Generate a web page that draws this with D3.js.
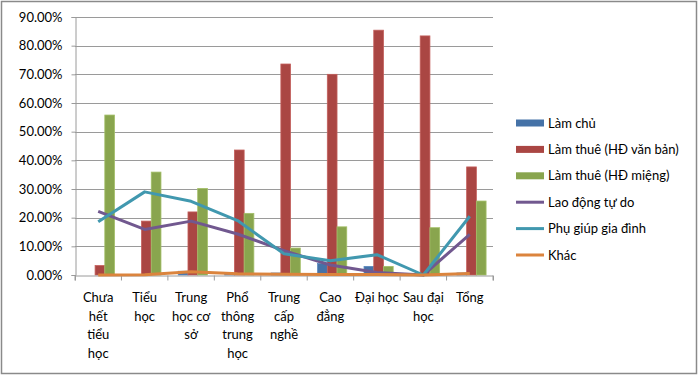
<!DOCTYPE html>
<html>
<head>
<meta charset="utf-8">
<script src="https://cdn.jsdelivr.net/npm/d3@7"></script>
<style>
  body { margin: 0; background: #fff; }
  text { font-family: Lato, "Open Sans", sans-serif; fill: #000; }
</style>
</head>
<body>
<div id="chart"></div>
<script>
// categories (line breaks as in the original axis labels)
var categories = ["Chưa\nhết\ntiểu\nhọc", "Tiểu\nhọc", "Trung\nhọc cơ\nsở", "Phổ\nthông\ntrung\nhọc",
  "Trung\ncấp\nnghề", "Cao\nđẳng", "Đại học", "Sau đại\nhọc", "Tổng"];

// bar series (percent)
var lamChu = [0.0, 0.0, 1.3, 0.3, 0.7, 4.0, 3.0, 0.0, 0.7];
var lamThueVanBan = [3.3, 18.8, 22.0, 43.6, 73.6, 70.0, 85.4, 83.4, 37.7];
var lamThueMieng = [55.8, 35.9, 30.2, 21.5, 9.4, 16.8, 3.0, 16.5, 25.8];

// line series (percent)
var laoDongTuDo = [22.2, 15.9, 18.8, 14.3, 8.5, 3.5, 0.9, 0.0, 14.2];
var phuGiup = [18.6, 29.0, 25.7, 19.0, 7.4, 5.0, 7.1, 0.0, 20.5];
var khac = [0.0, 0.1, 1.1, 0.4, 0.3, 0.2, 0.2, 0.0, 0.5];

var yTicks = [0, 10, 20, 30, 40, 50, 60, 70, 80, 90];

var barSeries = [
  { name: "Làm chủ", values: lamChu, color: "#4572A7", edge: "#5b87bd" },
  { name: "Làm thuê (HĐ văn bản)", values: lamThueVanBan, color: "#AA4643", edge: "#c45f5c" },
  { name: "Làm thuê (HĐ miệng)", values: lamThueMieng, color: "#89A54E", edge: "#a3bf68" }
];
var lineSeries = [
  { name: "Lao động tự do", values: laoDongTuDo, color: "#71588F" },
  { name: "Phụ giúp gia đình", values: phuGiup, color: "#4198AF" },
  { name: "Khác", values: khac, color: "#DB843D" }
];

var W = 700, H = 376;
var plot = { left: 75, right: 493, top: 17, bottom: 275 };

var svg = d3.select("#chart").append("svg")
  .attr("width", W)
  .attr("height", H);

svg.append("rect")
  .attr("x", 1.5).attr("y", 1.5)
  .attr("width", 695).attr("height", 372)
  .attr("fill", "#fff")
  .attr("stroke", "#8a8a8a")
  .attr("stroke-width", 1.5);

var x = d3.scaleBand()
  .domain(categories)
  .range([plot.left, plot.right])
  .padding(0);

var xSeries = d3.scaleBand()
  .domain(barSeries.map(function (d) { return d.name; }))
  .range([0, x.bandwidth()])
  .paddingInner(0)
  .paddingOuter(0.89)
  .align(0.6);

var y = d3.scaleLinear()
  .domain([0, 90])
  .range([plot.bottom, plot.top]);

// gridlines
svg.append("g")
  .selectAll("line")
  .data(yTicks.slice(1))
  .enter()
  .append("line")
  .attr("x1", plot.left)
  .attr("x2", plot.right)
  .attr("y1", function (d) { return Math.round(y(d)) + 0.5; })
  .attr("y2", function (d) { return Math.round(y(d)) + 0.5; })
  .attr("stroke", "#9a9a9a")
  .attr("stroke-width", 1);

// y axis
var yAxis = svg.append("g")
  .attr("transform", "translate(" + (plot.left + 0.5) + ",0)")
  .call(d3.axisLeft(y).tickValues(yTicks).tickSize(4).tickPadding(9)
    .tickFormat(function (d) { return d3.format(".2f")(d) + "%"; }));
yAxis.select(".domain").attr("stroke", "#9a9a9a");
yAxis.selectAll(".tick line").attr("stroke", "#9a9a9a");
yAxis.selectAll("text")
  .attr("font-size", "13px")
  .attr("fill", "#000");

// bars
barSeries.forEach(function (s) {
  svg.append("g")
    .selectAll("rect")
    .data(s.values)
    .enter()
    .append("rect")
    .attr("x", function (d, i) { return x(categories[i]) + xSeries(s.name); })
    .attr("y", function (d) { return y(d); })
    .attr("width", xSeries.bandwidth())
    .attr("height", function (d) { return plot.bottom - y(d); })
    .attr("fill", s.color)
    .attr("stroke", s.edge)
    .attr("stroke-width", 0.8);
});

// x axis
var xAxis = svg.append("g")
  .attr("transform", "translate(0," + (plot.bottom + 0.5) + ")")
  .call(d3.axisBottom(x).tickSize(5).tickFormat(""));
xAxis.select(".domain").attr("stroke", "#9a9a9a");
xAxis.selectAll(".tick line")
  .attr("stroke", "#9a9a9a")
  .attr("transform", "translate(" + (-x.bandwidth() / 2) + ",0)");
xAxis.append("line")
  .attr("x1", plot.right).attr("x2", plot.right)
  .attr("y1", 0).attr("y2", 5)
  .attr("stroke", "#9a9a9a");

// category labels
var catLabels = svg.append("g")
  .selectAll("text")
  .data(categories)
  .enter()
  .append("text")
  .attr("text-anchor", "middle")
  .attr("font-size", "13px")
  .attr("y", 302);
catLabels.selectAll("tspan")
  .data(function (d) { return d.split("\n"); })
  .enter()
  .append("tspan")
  .attr("x", function () { return x(d3.select(this.parentNode).datum()) + x.bandwidth() / 2; })
  .attr("dy", function (d, i) { return i === 0 ? 0 : 18.7; })
  .text(function (d) { return d; });

// lines
var line = d3.line()
  .x(function (d, i) { return x(categories[i]) + x.bandwidth() / 2; })
  .y(function (d) { return y(d); });

lineSeries.forEach(function (s) {
  svg.append("path")
    .datum(s.values)
    .attr("d", line)
    .attr("fill", "none")
    .attr("stroke", s.color)
    .attr("stroke-width", 3)
    .attr("stroke-linejoin", "round");
});

// legend
var legend = svg.append("g").attr("transform", "translate(516,123)");
var items = barSeries.map(function (s) { return { name: s.name, color: s.color, bar: true }; })
  .concat(lineSeries.map(function (s) { return { name: s.name, color: s.color, bar: false }; }));

var li = legend.selectAll("g")
  .data(items)
  .enter()
  .append("g")
  .attr("transform", function (d, i) { return "translate(0," + (i * 26.4) + ")"; });

li.append("rect")
  .attr("x", 0)
  .attr("y", function (d) { return d.bar ? -3.5 : -1.5; })
  .attr("width", 28)
  .attr("height", function (d) { return d.bar ? 7 : 3; })
  .attr("fill", function (d) { return d.color; });

li.append("text")
  .attr("x", 32)
  .attr("y", 4.5)
  .attr("font-size", "13px")
  .text(function (d) { return d.name; });
</script>
</body>
</html>
